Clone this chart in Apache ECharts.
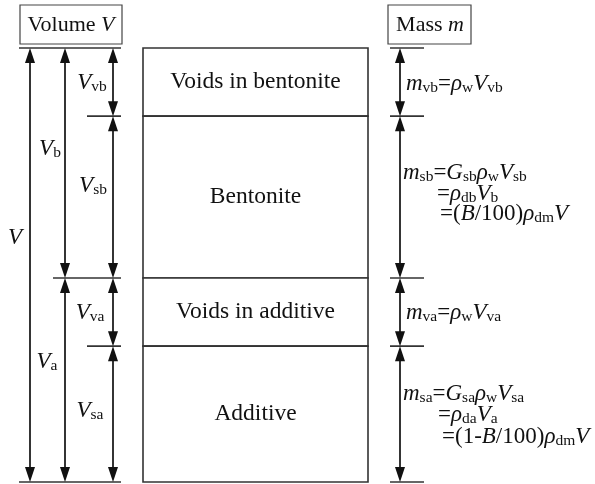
<!DOCTYPE html>
<html><head><meta charset="utf-8">
<script src="https://cdn.jsdelivr.net/npm/echarts@6/dist/echarts.min.js"></script>
<style>html,body{margin:0;padding:0;background:#fff}#c{width:595px;height:484px}</style>
</head><body><div id="c"></div>
<script>
// ---------------- data ----------------
const layerNames = ['Voids in bentonite', 'Bentonite', 'Voids in additive', 'Additive'];
const layerVolumes = [15.7, 37.3, 15.7, 31.3];           // share of total volume V (%)
// volume dimension arrows: column index, first layer, last layer, label
const volArrowCol   = [0, 1, 1, 2, 2, 2, 2];
const volArrowFrom  = [0, 0, 2, 0, 1, 2, 3];
const volArrowTo    = [3, 1, 3, 0, 1, 2, 3];
const volArrowLabel = ['{i|V}', '{i|V}{s|b}', '{i|V}{s|a}', '{i|V}{s|vb}', '{i|V}{s|sb}', '{i|V}{s|va}', '{i|V}{s|sa}'];
// mass expressions per layer (one array of lines each)
const massLines = [
  ['{i|m}{s|vb}{n|=}{i|ρ}{s|w}{i|V}{s|vb}'],
  ['{i|m}{s|sb}{n|=}{i|G}{s|sb}{i|ρ}{s|w}{i|V}{s|sb}', '{n|=}{i|ρ}{s|db}{i|V}{s|b}', '{n|=(}{i|B}{n|/100)}{i|ρ}{s|dm}{i|V}'],
  ['{i|m}{s|va}{n|=}{i|ρ}{s|w}{i|V}{s|va}'],
  ['{i|m}{s|sa}{n|=}{i|G}{s|sa}{i|ρ}{s|w}{i|V}{s|sa}', '{n|=}{i|ρ}{s|da}{i|V}{s|a}', '{n|=(1-}{i|B}{n|/100)}{i|ρ}{s|dm}{i|V}']
];
const headerVolume = '{n|Volume }{i|V}';
const headerMass = '{n|Mass }{i|m}';

// ---------------- layout / style ----------------
const FONT = '"Liberation Serif","Times New Roman",serif';
const INK = '#111';
const rich = {
  i: {fontFamily: FONT, fontStyle: 'italic', fontSize: 23, lineHeight: 25, verticalAlign: 'bottom', color: INK},
  n: {fontFamily: FONT, fontSize: 23, lineHeight: 25, verticalAlign: 'bottom', color: INK},
  s: {fontFamily: FONT, fontSize: 15.5, lineHeight: 15.5, verticalAlign: 'bottom', color: INK}
};
const richHead = {
  i: {fontFamily: FONT, fontStyle: 'italic', fontSize: 22, color: INK},
  n: {fontFamily: FONT, fontSize: 22, color: INK}
};
const COL_LEFT = 143, COL_RIGHT = 368;
const volCols = [30, 65, 113];
const volLabelDx = [-15, -15, -18, -21, -20, -23, -23];
const volLabelDy = [-28, -15, -19, 0, -12, 0, -4];
const tickLeftX0 = [19, 87, 53, 87, 19];
const TICK_RIGHT = 121;
const MASS_X = 400, MASS_T0 = 390, MASS_T1 = 424;
const massIndent = [[406], [403, 437, 440], [406], [403, 438, 442]];
const massDy = [[1], [-25, -4, 16], [0], [-21, 0, 22]];

const cum = [0];
layerVolumes.forEach((v, i) => cum.push(+(cum[i] + v).toFixed(3)));
const TOTAL = cum[cum.length - 1];

function head(x, y, dir) {
  // dir = 1: pointing down, tip at y ; dir = -1: pointing up
  return {type: 'polygon', shape: {points: [[x, y], [x - 5, y - dir * 15], [x + 5, y - dir * 15]]},
          style: {fill: INK}};
}
function dimArrow(x, y0, y1) {
  return [
    {type: 'line', shape: {x1: x, y1: y0 + 6, x2: x, y2: y1 - 6}, style: {stroke: INK, lineWidth: 1.7}},
    head(x, y0, -1), head(x, y1, 1)
  ];
}
function txt(text, x, y, align, r) {
  return {type: 'text', x: x, y: y, style: {text: text, rich: r || rich, align: align, verticalAlign: 'middle',
          fontFamily: FONT, fontSize: 23, fill: INK}};
}

const chart = echarts.init(document.getElementById('c'), null, {renderer: 'canvas'});
chart.setOption({
  animation: false,
  grid: {left: 0, right: 0, top: 48, bottom: 2},
  xAxis: {type: 'value', min: 0, max: 595, show: false},
  yAxis: {type: 'value', min: 0, max: TOTAL, inverse: true, show: false},
  graphic: [
    {type: 'rect', shape: {x: 20, y: 5, width: 102, height: 39}, style: {fill: '#fff', stroke: '#444', lineWidth: 1.2}},
    txt(headerVolume, 71, 25, 'center', richHead),
    {type: 'rect', shape: {x: 388, y: 5, width: 83, height: 39}, style: {fill: '#fff', stroke: '#444', lineWidth: 1.2}},
    txt(headerMass, 430, 25, 'center', richHead)
  ],
  series: [
    { // phase column
      type: 'custom', coordinateSystem: 'cartesian2d', encode: {x: 0, y: [1, 2]},
      data: layerNames.map((n, i) => [COL_LEFT, cum[i], cum[i + 1], i]),
      renderItem: function (params, api) {
        const a = api.coord([api.value(0), api.value(1)]);
        const b = api.coord([COL_RIGHT, api.value(2)]);
        const i = api.value(3);
        return {type: 'group', children: [
          {type: 'rect', shape: {x: a[0], y: a[1], width: b[0] - a[0], height: b[1] - a[1]},
           style: {fill: '#fff', stroke: '#333', lineWidth: 1.6}},
          {type: 'text', x: (a[0] + b[0]) / 2, y: (a[1] + b[1]) / 2,
           style: {text: layerNames[i], fontFamily: FONT, fontSize: 23.5, fill: INK, align: 'center', verticalAlign: 'middle'}}
        ]};
      }
    },
    { // boundary ticks
      type: 'custom', coordinateSystem: 'cartesian2d', encode: {x: 0, y: 1},
      data: cum.map((c, i) => [tickLeftX0[i], c, i]),
      renderItem: function (params, api) {
        const p = api.coord([api.value(0), api.value(1)]);
        const q = api.coord([TICK_RIGHT, api.value(1)]);
        const r0 = api.coord([MASS_T0, api.value(1)]);
        const r1 = api.coord([MASS_T1, api.value(1)]);
        return {type: 'group', children: [
          {type: 'line', shape: {x1: p[0], y1: p[1], x2: q[0], y2: q[1]}, style: {stroke: '#333', lineWidth: 1.6}},
          {type: 'line', shape: {x1: r0[0], y1: r0[1], x2: r1[0], y2: r1[1]}, style: {stroke: '#333', lineWidth: 1.6}}
        ]};
      }
    },
    { // volume arrows
      type: 'custom', coordinateSystem: 'cartesian2d', encode: {x: 0, y: [1, 2]},
      data: volArrowCol.map((c, k) => [volCols[c], cum[volArrowFrom[k]], cum[volArrowTo[k] + 1], k]),
      renderItem: function (params, api) {
        const a = api.coord([api.value(0), api.value(1)]);
        const b = api.coord([api.value(0), api.value(2)]);
        const k = api.value(3);
        const kids = dimArrow(a[0], a[1], b[1]);
        kids.push(txt(volArrowLabel[k], a[0] + volLabelDx[k], (a[1] + b[1]) / 2 + volLabelDy[k], 'center'));
        return {type: 'group', children: kids};
      }
    },
    { // mass arrows
      type: 'custom', coordinateSystem: 'cartesian2d', encode: {x: 0, y: [1, 2]},
      data: layerNames.map((n, i) => [MASS_X, cum[i], cum[i + 1], i]),
      renderItem: function (params, api) {
        const a = api.coord([api.value(0), api.value(1)]);
        const b = api.coord([api.value(0), api.value(2)]);
        const i = api.value(3);
        const kids = dimArrow(a[0], a[1], b[1]);
        const mid = (a[1] + b[1]) / 2;
        massLines[i].forEach((l, j) => kids.push(txt(l, massIndent[i][j], mid + massDy[i][j], 'left')));
        return {type: 'group', children: kids};
      }
    }
  ]
});
</script>
</body></html>
